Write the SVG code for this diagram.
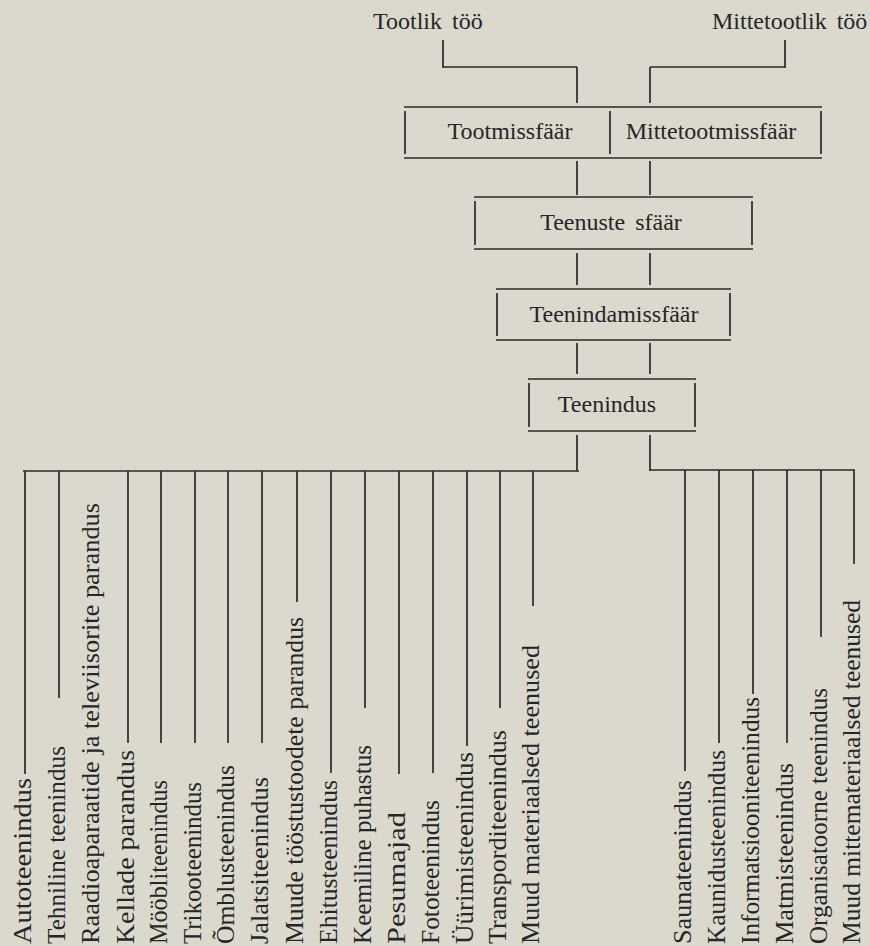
<svg xmlns="http://www.w3.org/2000/svg" width="870" height="946" viewBox="0 0 870 946">
<style>
.bg{fill:#dbd9cd}
.ln{stroke:#2a2a2a;stroke-width:1.7;fill:none;stroke-linecap:butt}
.t{font-family:"Liberation Serif","Times New Roman",serif;font-size:24px;fill:#262626;word-spacing:4px}
.c{text-anchor:middle}
.v{font-family:"Liberation Serif","Times New Roman",serif;font-size:26px;fill:#262626}
</style>
<rect class="bg" x="0" y="0" width="870" height="946"/>
<g id="tootlik-too"><text class="t" x="373" y="29">Tootlik töö</text></g>
<g id="mittetootlik-too"><text class="t" x="712" y="29">Mittetootlik töö</text></g>
<g id="sfaarid">
<path class="ln" d="M404,107H822M404,158H822M405,111V154M821,111V154M610,111V154"/>
<text class="t c" x="510" y="139">Tootmissfäär</text>
<text class="t c" x="711" y="139">Mittetootmissfäär</text>
</g>
<g id="teenuste-sfaar">
<path class="ln" d="M474,197H753M474,249H753M475,201V245M752,201V245"/>
<text class="t c" x="611" y="230">Teenuste sfäär</text>
</g>
<g id="teenindamissfaar">
<path class="ln" d="M496,289H731M496,340H731M497,293V336M730,293V336"/>
<text class="t c" x="614" y="322">Teenindamissfäär</text>
</g>
<g id="teenindus">
<path class="ln" d="M528,379H696M528,431H696M529,383V427M695,383V427"/>
<text class="t c" x="607" y="412">Teenindus</text>
</g>
<g id="connectors">
<path class="ln" d="M443,40V68M443,67H577M577,67V103M785,40V68M650,67H785M650,67V103"/>
<path class="ln" d="M577,161V195M650,161V195M577,253V285M650,253V285M577,343V374M650,343V374M577,435V471M650,435V471"/>
<path class="ln" d="M23,471H579M650,470H855"/>
<path class="ln" d="M25,471V774M59,471V698M128,471V743M161,471V743M195,471V743M228,471V743M262,471V743M297,471V602M331,471V773M365,471V708M399,471V774M433,471V773M467,471V746M500,471V708M533,471V606"/>
<path class="ln" d="M685,470V771M719,470V743M753,470V694M787,470V743M821,470V637M854,470V564"/>
</g>
<g id="autoteenindus"><text class="v" transform="translate(31,944) rotate(-90)" textLength="166" lengthAdjust="spacingAndGlyphs">Autoteenindus</text></g>
<g id="tehniline-teenindus"><text class="v" transform="translate(65,944) rotate(-90)" textLength="198" lengthAdjust="spacingAndGlyphs">Tehniline teenindus</text></g>
<g id="raadio"><text class="v" transform="translate(99,944) rotate(-90)" textLength="441" lengthAdjust="spacingAndGlyphs">Raadioaparaatide ja televiisorite parandus</text></g>
<g id="kellade-parandus"><text class="v" transform="translate(134,944) rotate(-90)" textLength="194" lengthAdjust="spacingAndGlyphs">Kellade parandus</text></g>
<g id="moobliteenindus"><text class="v" transform="translate(167,944) rotate(-90)" textLength="164" lengthAdjust="spacingAndGlyphs">Mööbliteenindus</text></g>
<g id="trikooteenindus"><text class="v" transform="translate(201,944) rotate(-90)" textLength="162" lengthAdjust="spacingAndGlyphs">Trikooteenindus</text></g>
<g id="omblusteenindus"><text class="v" transform="translate(234,944) rotate(-90)" textLength="179" lengthAdjust="spacingAndGlyphs">Õmblusteenindus</text></g>
<g id="jalatsiteenindus"><text class="v" transform="translate(268,944) rotate(-90)" textLength="167" lengthAdjust="spacingAndGlyphs">Jalatsiteenindus</text></g>
<g id="muude-toostustoodete"><text class="v" transform="translate(303,944) rotate(-90)" textLength="327" lengthAdjust="spacingAndGlyphs">Muude tööstustoodete parandus</text></g>
<g id="ehitusteenindus"><text class="v" transform="translate(337,944) rotate(-90)" textLength="164" lengthAdjust="spacingAndGlyphs">Ehitusteenindus</text></g>
<g id="keemiline-puhastus"><text class="v" transform="translate(371,944) rotate(-90)" textLength="199" lengthAdjust="spacingAndGlyphs">Keemiline puhastus</text></g>
<g id="pesumajad"><text class="v" transform="translate(405,944) rotate(-90)" textLength="132" lengthAdjust="spacingAndGlyphs">Pesumajad</text></g>
<g id="fototeenindus"><text class="v" transform="translate(439,944) rotate(-90)" textLength="144" lengthAdjust="spacingAndGlyphs">Fototeenindus</text></g>
<g id="uurimisteenindus"><text class="v" transform="translate(473,944) rotate(-90)" textLength="192" lengthAdjust="spacingAndGlyphs">Üürimisteenindus</text></g>
<g id="transporditeenindus"><text class="v" transform="translate(506,944) rotate(-90)" textLength="214" lengthAdjust="spacingAndGlyphs">Transporditeenindus</text></g>
<g id="muud-materiaalsed"><text class="v" transform="translate(539,944) rotate(-90)" textLength="299" lengthAdjust="spacingAndGlyphs">Muud materiaalsed teenused</text></g>
<g id="saunateenindus"><text class="v" transform="translate(691,944) rotate(-90)" textLength="164" lengthAdjust="spacingAndGlyphs">Saunateenindus</text></g>
<g id="kaunidusteenindus"><text class="v" transform="translate(725,944) rotate(-90)" textLength="194" lengthAdjust="spacingAndGlyphs">Kaunidusteenindus</text></g>
<g id="informatsiooniteenindus"><text class="v" transform="translate(759,944) rotate(-90)" textLength="247" lengthAdjust="spacingAndGlyphs">Informatsiooniteenindus</text></g>
<g id="matmisteenindus"><text class="v" transform="translate(793,944) rotate(-90)" textLength="181" lengthAdjust="spacingAndGlyphs">Matmisteenindus</text></g>
<g id="organisatoorne-teenindus"><text class="v" transform="translate(827,944) rotate(-90)" textLength="256" lengthAdjust="spacingAndGlyphs">Organisatoorne teenindus</text></g>
<g id="muud-mittemateriaalsed"><text class="v" transform="translate(860,944) rotate(-90)" textLength="344" lengthAdjust="spacingAndGlyphs">Muud mittemateriaalsed teenused</text></g>
</svg>
